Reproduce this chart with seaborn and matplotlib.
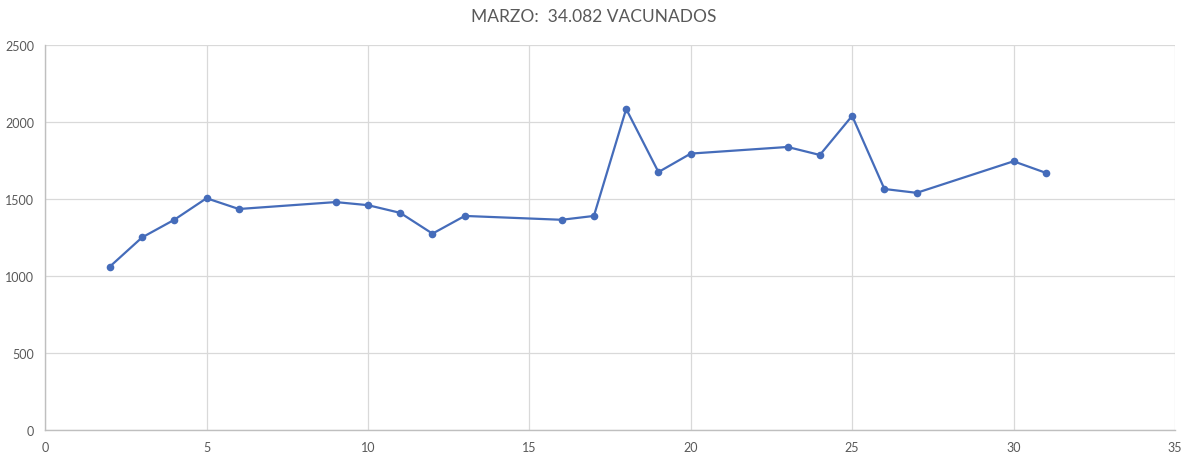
import numpy as np
import matplotlib
matplotlib.use('Agg')
import matplotlib.pyplot as plt
import seaborn as sn
import pandas as pd

dias = [2, 3, 4, 5, 6, 9, 10, 11, 12, 13, 16, 17, 18, 19, 20, 23, 24, 25, 26, 27, 30, 31]
vacunados = [1060, 1250, 1365, 1505, 1435, 1480, 1460, 1410, 1275, 1390, 1365, 1390,
             2085, 1675, 1795, 1838, 1786, 2040, 1565, 1540, 1745, 1670]
titulo = 'MARZO:  34.082 VACUNADOS'

sn.set_theme(style = 'whitegrid')
plt.rcParams['font.family'] = ['Lato', 'DejaVu Sans']

df = pd.DataFrame({'Dia': dias, 'Vacunados': vacunados})

fig = plt.figure(figsize = (11.88, 4.56), dpi = 100)
ax = fig.add_axes([0.038, 0.055, 0.951, 0.844])
sn.lineplot(data = df, x = 'Dia', y = 'Vacunados', ax = ax, color = '#456CBA',
            linewidth = 1.6, marker = 'o', markersize = 5.5, markeredgewidth = 0)

ax.set_xlim(0, 35)
ax.set_ylim(0, 2500)
ax.set_xticks(np.arange(0, 36, 5))
ax.set_yticks(np.arange(0, 2501, 500))
ax.set_xlabel('')
ax.set_ylabel('')
ax.grid(True, color = '#d9d9d9', linewidth = 0.9)
for side in ['top', 'right']:
    ax.spines[side].set_visible(False)
for side in ['left', 'bottom']:
    ax.spines[side].set_color('#bfbfbf')
    ax.spines[side].set_linewidth(1)
ax.tick_params(axis = 'both', length = 0, labelsize = 9, labelcolor = '#595959')
ax.tick_params(axis = 'x', pad = 8)
ax.tick_params(axis = 'y', pad = 8)

fig.suptitle(titulo, fontsize = 12.5, color = '#595959', y = 0.98)
plt.savefig('out.png', dpi = 100)
plt.close(fig)
